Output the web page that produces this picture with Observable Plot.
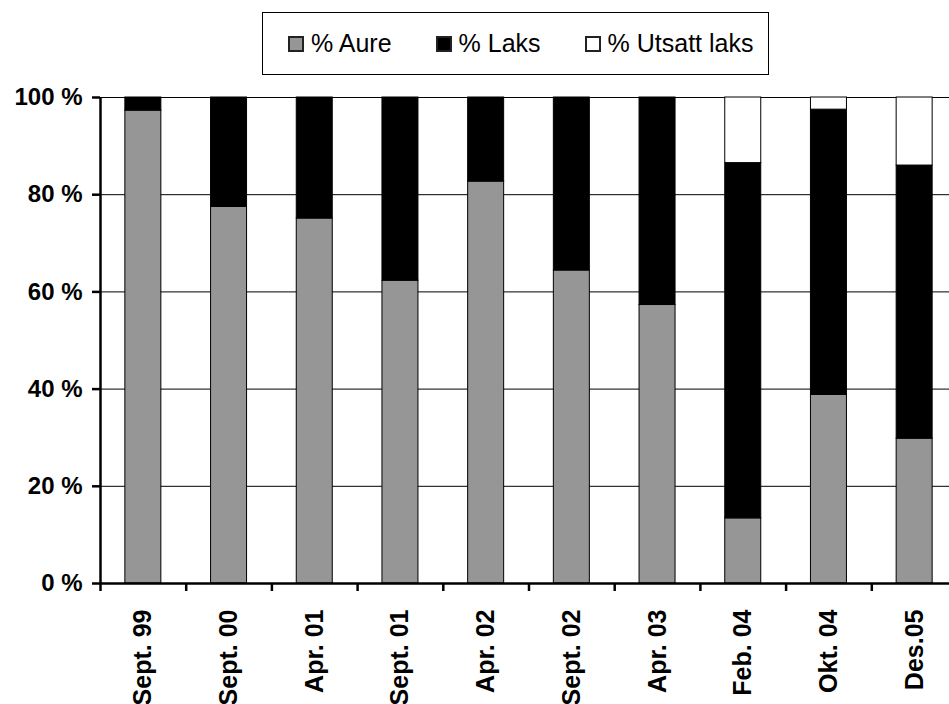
<!DOCTYPE html>
<html>
<head>
<meta charset="utf-8">
<script src="https://cdn.jsdelivr.net/npm/d3@7"></script>
<script src="https://cdn.jsdelivr.net/npm/@observablehq/plot@0.6"></script>
<style>
  html, body { margin: 0; padding: 0; background: #fff; overflow: hidden; }
  #wrap { position: relative; width: 949px; height: 704px; font-family: "Liberation Sans", Arial, sans-serif; }
  #legend {
    position: absolute; left: 262px; top: 12px; width: 507px; height: 63px;
    border: 1px solid #000; background: #fff;
    display: flex; align-items: center; padding-left: 25px; box-sizing: border-box;
    font-size: 25px; color: #000;
  }
  .item { display: flex; align-items: center; margin-right: 44px; }
  .item:last-child { margin-right: 0; }
  .swatch { width: 12px; height: 12px; border: 2px solid #222; margin-right: 7px; }
  #chart { position: absolute; left: 0; top: 0; }
</style>
</head>
<body>
<div id="wrap">
  <div id="chart"></div>
  <div id="legend"></div>
</div>
<script>
// Sampling dates (x categories)
const categories = ["Sept. 99", "Sept. 00", "Apr. 01", "Sept. 01", "Apr. 02",
                    "Sept. 02", "Apr. 03", "Feb. 04", "Okt. 04", "Des.05"];
// Share of each fish group, percent
const aure   = [97.3, 77.5, 75.1, 62.3, 82.7, 64.4, 57.3, 13.4, 38.8, 29.8];
const laks   = [2.7, 22.5, 24.9, 37.7, 17.3, 35.6, 42.7, 73.1, 58.7, 56.2];
const utsatt = [0, 0, 0, 0, 0, 0, 0, 13.5, 2.5, 14.0];
// Series names (legend order = stacking order from bottom)
const seriesNames = ["% Aure", "% Laks", "% Utsatt laks"];
const seriesColors = ["#969696", "#000000", "#ffffff"];
// Y axis ticks
const yTicks = [0, 20, 40, 60, 80, 100];

const seriesValues = [aure, laks, utsatt];
const rows = [];
categories.forEach((c, i) => {
  seriesNames.forEach((s, k) => rows.push({cat: c, series: s, value: seriesValues[k][i]}));
});

// Category band geometry (the plot area runs past the right edge of the page)
const x0 = 100, x1 = 957;
const step = (x1 - x0) / categories.length;
const barWidth = 36;
const inset = (step - barWidth) / 2;

const chart = Plot.plot({
  width: 949,
  height: 704,
  marginTop: 97,
  marginBottom: 121,
  marginLeft: 100,
  marginRight: 0,
  style: {fontFamily: "'Liberation Sans', Arial, sans-serif", background: "transparent", color: "#000", overflow: "hidden"},
  x: {domain: categories, range: [x0, x1], padding: 0, round: false},
  y: {domain: [0, 100]},
  color: {domain: seriesNames, range: seriesColors},
  marks: [
    // horizontal gridlines
    Plot.ruleY(yTicks.filter(d => d > 0), {stroke: "#000", strokeWidth: 1}),
    // stacked bars
    Plot.barY(rows, Plot.stackY({
      x: "cat", y: "value", fill: "series", order: seriesNames,
      stroke: "#000", strokeWidth: 1, insetLeft: inset, insetRight: inset
    })),
    // category axis line
    Plot.ruleY([0], {stroke: "#000", strokeWidth: 2.5}),
    // value axis line
    Plot.ruleX([categories[0]], {dx: -step / 2, y1: 0, y2: 100, stroke: "#000", strokeWidth: 2.5}),
    // category separator ticks below the axis
    Plot.ruleX(categories, {dx: -step / 2, y1: 0, y2: 0, insetBottom: -8, stroke: "#000", strokeWidth: 2.5}),
    Plot.axisY(yTicks, {
      tickSize: 8, tickPadding: 10, strokeWidth: 2.5,
      fontSize: 24, fontWeight: "bold",
      tickFormat: d => d + " %", label: null
    }),
    Plot.axisX({
      tickSize: 0, tickPadding: 26, tickRotate: -90,
      fontSize: 25, fontWeight: "bold", label: null
    })
  ]
});
document.getElementById("chart").appendChild(chart);

// Legend
const legend = document.getElementById("legend");
seriesNames.forEach((s, k) => {
  const item = document.createElement("div");
  item.className = "item";
  const sw = document.createElement("div");
  sw.className = "swatch";
  sw.style.background = seriesColors[k];
  const label = document.createElement("span");
  label.textContent = s;
  item.appendChild(sw);
  item.appendChild(label);
  legend.appendChild(item);
});
</script>
</body>
</html>
